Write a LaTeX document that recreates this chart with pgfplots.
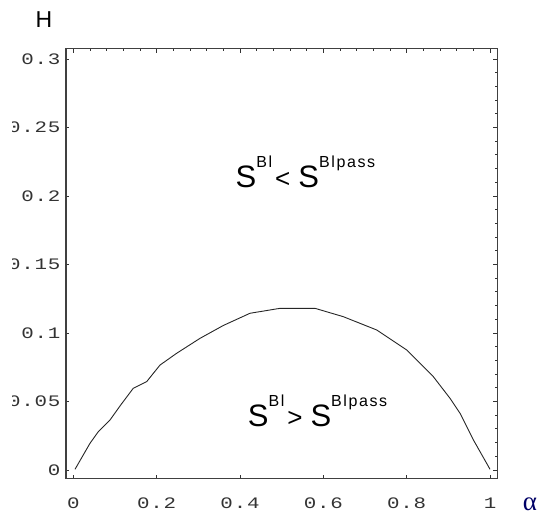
\documentclass[border=0pt]{standalone}
\usepackage{pgfplots}
\pgfplotsset{compat=1.18}
\usepackage{fontspec}
\setmainfont{Liberation Sans}
\newfontfamily\tickfont[LetterSpace=5,FakeStretch=1.3]{Liberation Mono}
\newfontfamily\greekfont{Liberation Serif}
\newfontfamily\supfont[LetterSpace=10]{Liberation Sans}
\newcommand{\Slab}[1]{{\fontsize{31}{31}\selectfont S}\raisebox{20pt}{\supfont\fontsize{16}{16}\selectfont Bl}\hspace{3pt}{\fontsize{26}{26}\selectfont #1}\hspace{8pt}{\fontsize{31}{31}\selectfont S}\raisebox{20pt}{\supfont\fontsize{16}{16}\selectfont Blpass}}
\begin{document}
\begin{tikzpicture}
\pgfplotsset{
  common/.style={
    width=431.7pt, height=430pt, scale only axis,
    at={(66pt,44.7pt)}, anchor=south west,
    xmin=-0.0176, xmax=1.0184, ymin=-0.00606, ymax=0.3078,
    tick align=inside,
  }
}
% top/right ticks with minors
\begin{axis}[common,
  axis line style={draw=none},
  xtick={0,0.2,0.4,0.6,0.8,1}, minor x tick num=4,
  ytick={0,0.05,0.1,0.15,0.2,0.25,0.3}, minor y tick num=4,
  xtick pos=right, ytick pos=right,
  xticklabels={}, yticklabels={},
  major tick length=4.5pt, minor tick length=2.5pt,
  every tick/.style={black!80, line width=0.9pt},
]
\end{axis}
% main axis
\begin{axis}[common,
  axis line style={draw=black!75, line width=1.4pt},
  xtick={0,0.2,0.4,0.6,0.8,1},
  xticklabels={0,0.2,0.4,0.6,0.8,1},
  ytick={0,0.05,0.1,0.15,0.2,0.25,0.3},
  yticklabels={0,0.05,0.1,0.15,0.2,0.25,0.3},
  xtick pos=left, ytick pos=left,
  major tick length=3pt,
  every tick/.style={black!80, line width=0.9pt},
  ticklabel style={font=\tickfont\fontsize{16}{16}\selectfont, text=black!80},
  xticklabel style={yshift=-16pt},
  yticklabel style={xshift=-2pt},
]
\addplot[black!85, line width=0.9pt] coordinates {
(0.004,0.0005) (0.040,0.0195) (0.060,0.028) (0.088,0.0365) (0.115,0.048)
(0.144,0.0597) (0.176,0.0645) (0.208,0.0766) (0.248,0.0852) (0.304,0.0961)
(0.36,0.1055) (0.424,0.1144) (0.496,0.118) (0.580,0.118) (0.648,0.1119)
(0.728,0.1022) (0.800,0.0876) (0.864,0.0681) (0.904,0.0523) (0.928,0.0414)
(0.960,0.022) (1.0,0.0005)
};
\node[anchor=base, inner sep=0pt] at (axis cs:0.557,0.2064) {\Slab{<}};
\node[anchor=base, inner sep=0pt] at (axis cs:0.586,0.0316) {\Slab{>}};
\node[inner sep=0pt, font=\tickfont\fontsize{16}{16}\selectfont, text=black!80] at (axis cs:1.0184,0.05) [xshift=4pt,yshift=-2pt] {(};
\node[inner sep=0pt, font=\tickfont\fontsize{16}{16}\selectfont, text=black!80] at (axis cs:1.0184,0.15) [xshift=4pt,yshift=-2pt] {(};
\node[inner sep=0pt, font=\tickfont\fontsize{16}{16}\selectfont, text=black!80] at (axis cs:1.0184,0.25) [xshift=4pt,yshift=-2pt] {(};
\end{axis}
\fill[white] (0pt,30pt) rectangle (12pt,480pt);
\node[inner sep=0pt, font=\fontsize{23}{23}\selectfont] at (44pt,503.5pt) {H};
\node[inner sep=0pt, font=\greekfont\fontsize{27}{27}\selectfont, text=blue!40!black] at (530pt,19pt) {α};
\pgfresetboundingbox
\path[use as bounding box] (0pt,0pt) rectangle (540pt,523pt);
\end{tikzpicture}
\end{document}
